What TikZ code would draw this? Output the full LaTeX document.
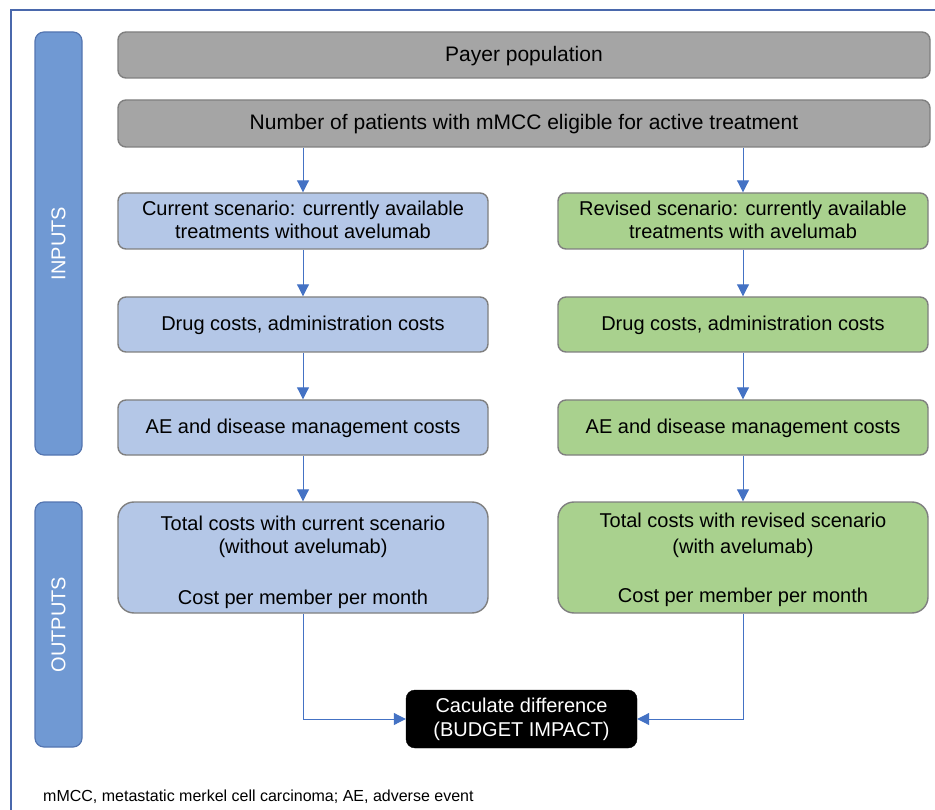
\documentclass[tikz,border=0pt]{standalone}
\usepackage{fontspec}
\setmainfont{Liberation Sans}
\usetikzlibrary{arrows.meta,calc}
\definecolor{frameblue}{HTML}{4A68AC}
\definecolor{barfill}{HTML}{7099D3}
\definecolor{bardraw}{HTML}{5475B0}
\definecolor{leftfill}{HTML}{B4C7E7}
\definecolor{rightfill}{HTML}{A9D18E}
\definecolor{grayfill}{HTML}{A5A5A5}
\definecolor{boxdraw}{HTML}{7F7F7F}
\definecolor{arrowblue}{HTML}{4472C4}
\tikzset{
  basebox/.style={draw=boxdraw, line width=1.4pt, rounded corners=8pt, align=center, inner sep=0pt,
    font=\fontsize{20}{23}\selectfont, text=black, text depth=3pt},
  graybox/.style={basebox, fill=grayfill, minimum width=812pt, font=\fontsize{21}{24}\selectfont},
  leftbox/.style={basebox, fill=leftfill, minimum width=370pt},
  rightbox/.style={basebox, fill=rightfill, minimum width=370pt},
  totalbox/.style={rounded corners=16pt, minimum height=111pt},
  boxtext/.style={align=center, inner sep=0pt, font=\fontsize{20}{23}\selectfont, text=black},
  sidebar/.style={draw=bardraw, line width=1.2pt, fill=barfill, rounded corners=9pt, minimum width=47pt, inner sep=0pt},
  sidelabel/.style={text=white, font=\fontsize{20}{23}\selectfont, rotate=90},
  blackbox/.style={fill=black, draw=black, rounded corners=9pt, text=white, align=center, inner sep=0pt,
    minimum width=231pt, minimum height=58pt, font=\fontsize{20}{24}\selectfont, text depth=3pt},
  flow/.style={draw=arrowblue, line width=1pt, -{Triangle[length=12pt,width=12pt]}},
}
\begin{document}
\begin{tikzpicture}[x=1pt,y=-1pt]
\useasboundingbox (0,0) rectangle (935,810);
% frame
\draw[frameblue, line width=1.6pt] (11,812) -- (11,10) -- (937,10);
% side bars
\node[sidebar, minimum height=423pt] (inbar) at (58.5,243.5) {};
\node[sidelabel] (inlabel) at (inbar.center) {INPUTS};
\node[sidebar, minimum height=245pt] (outbar) at (58.5,624.5) {};
\node[sidelabel] (outlabel) at (outbar.center) {OUTPUTS};
% top boxes
\node[graybox, minimum height=46pt] (payer) at (524,55) {Payer population};
\node[graybox, minimum height=47pt] (num) at (524,123.5) {Number of patients with mMCC eligible for active treatment};
% left column
\node[leftbox, minimum height=56pt] (cur) at (303,221) {Current scenario: currently available\\treatments without avelumab};
\node[leftbox, minimum height=55pt] (ldrug) at (303,324.5) {Drug costs, administration costs};
\node[leftbox, minimum height=55pt] (lae) at (303,427.5) {AE and disease management costs};
\node[leftbox, totalbox] (ltot) at (303,557.5) {};
\node[boxtext] (ltottext) at ([yshift=-5pt]ltot.center) {Total costs with current scenario\\(without avelumab)\\[28pt]Cost per member per month};
% right column
\node[rightbox, minimum height=56pt] (rev) at (743,221) {Revised scenario: currently available\\treatments with avelumab};
\node[rightbox, minimum height=55pt] (rdrug) at (743,324.5) {Drug costs, administration costs};
\node[rightbox, minimum height=55pt] (rae) at (743,427.5) {AE and disease management costs};
\node[rightbox, totalbox] (rtot) at (743,557.5) {};
\node[boxtext] (rtottext) at ([yshift=-2pt]rtot.center) {Total costs with revised scenario\\[3pt](with avelumab)\\[26pt]Cost per member per month};
% result
\node[blackbox] (diff) at (521.5,719) {Caculate difference\\(BUDGET IMPACT)};
% arrows
\draw[flow] (cur.north |- num.south) -- (cur.north);
\draw[flow] (cur) -- (ldrug);
\draw[flow] (ldrug) -- (lae);
\draw[flow] (lae) -- (ltot);
\draw[flow] (rev.north |- num.south) -- (rev.north);
\draw[flow] (rev) -- (rdrug);
\draw[flow] (rdrug) -- (rae);
\draw[flow] (rae) -- (rtot);
\draw[flow] (ltot.south) |- (diff.west);
\draw[flow] (rtot.south) |- (diff.east);
% footnote
\node[anchor=base west, inner sep=0pt, font=\fontsize{16}{19}\selectfont] (foot) at (43,801) {mMCC, metastatic merkel cell carcinoma; AE, adverse event};
\end{tikzpicture}
\end{document}
